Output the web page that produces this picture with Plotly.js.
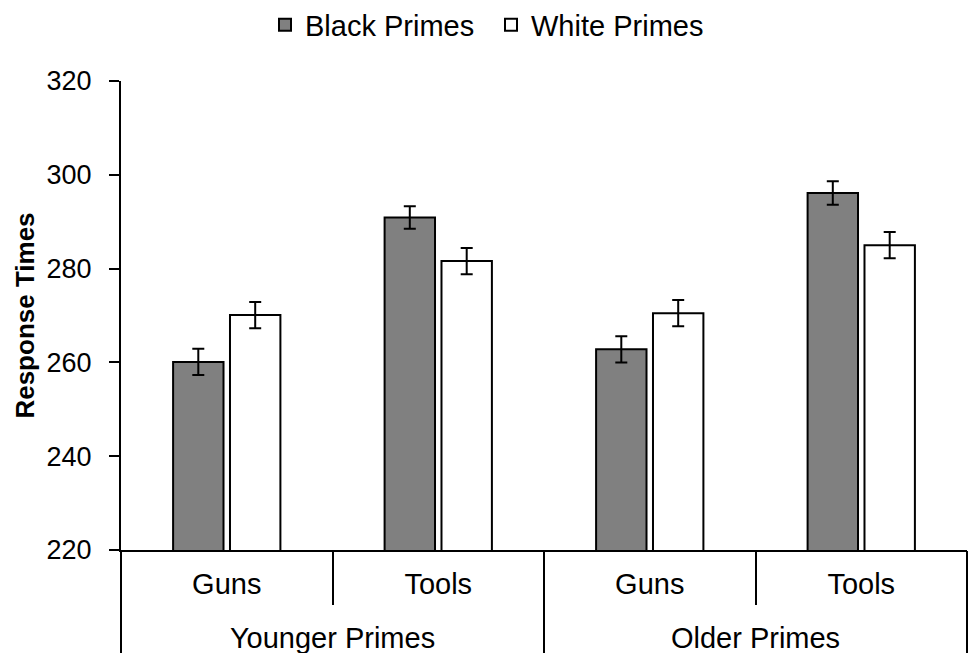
<!DOCTYPE html>
<html>
<head>
<meta charset="utf-8">
<script src="https://cdn.plot.ly/plotly-3.0.1.min.js"></script>
<style>
  html, body { margin: 0; padding: 0; background: #ffffff; }
  #chart { width: 969px; height: 653px; }
</style>
</head>
<body>
<div id="chart"></div>
<script>
// Prime age groups (outer level) and target objects (inner level)
const primeAge = ['Younger Primes', 'Younger Primes', 'Older Primes', 'Older Primes'];
const targetObject = ['Guns', 'Tools', 'Guns', 'Tools'];

// Mean response times (ms) and their standard errors
const blackPrimes = [260.1, 290.9, 262.8, 296.1];
const blackErr = [2.8, 2.4, 2.8, 2.5];
const whitePrimes = [270.1, 281.6, 270.5, 285.0];
const whiteErr = [2.8, 2.8, 2.8, 2.8];

const yTicks = [220, 240, 260, 280, 300, 320];

const FONT = 'Liberation Sans, Arial, sans-serif';

// one category per (age group, object) cell
const cellKeys = primeAge.map((g, i) => g + ' / ' + targetObject[i]);

// outer groups: label centred over its cells, boundaries on both sides
const groups = [...new Set(primeAge)];
const groupCenters = groups.map(g => {
  const idx = primeAge.map((a, i) => (a === g ? i : null)).filter(i => i !== null);
  return (idx[0] + idx[idx.length - 1]) / 2;
});
const groupBounds = [-0.5].concat(groups.map(g => primeAge.lastIndexOf(g) + 0.5));

const traces = [
  {
    type: 'bar',
    name: 'Black Primes',
    x: cellKeys,
    y: blackPrimes,
    marker: { color: '#808080', line: { color: '#000000', width: 2 } },
    error_y: { type: 'data', array: blackErr, visible: true, color: '#000000', thickness: 2, width: 6 }
  },
  {
    type: 'bar',
    name: 'White Primes',
    x: cellKeys,
    y: whitePrimes,
    marker: { color: '#ffffff', line: { color: '#000000', width: 2 } },
    error_y: { type: 'data', array: whiteErr, visible: true, color: '#000000', thickness: 2, width: 6 }
  },
  // empty traces that attach the group-label and divider axes
  { type: 'scatter', x: [], y: [], xaxis: 'x2', yaxis: 'y', showlegend: false, hoverinfo: 'skip' },
  { type: 'scatter', x: [], y: [], xaxis: 'x3', yaxis: 'y', showlegend: false, hoverinfo: 'skip' }
];

const layout = {
  width: 969,
  height: 653,
  margin: { l: 121, r: 2, t: 81, b: 103 },
  paper_bgcolor: '#ffffff',
  plot_bgcolor: '#ffffff',
  font: { family: FONT, color: '#000000' },
  barmode: 'group',
  bargap: 0.462,
  bargroupgap: 0.114,
  showlegend: true,
  legend: {
    orientation: 'h',
    xref: 'container',
    yref: 'container',
    x: 265 / 969,
    xanchor: 'left',
    y: 1 - 25 / 653,
    yanchor: 'middle',
    entrywidth: 181,
    entrywidthmode: 'pixels',
    font: { family: FONT, size: 29, color: '#000000' },
    bgcolor: 'rgba(0,0,0,0)'
  },
  // inner level: object labels under each pair of bars
  xaxis: {
    type: 'category',
    tickvals: cellKeys,
    ticktext: targetObject,
    showline: true,
    linecolor: '#000000',
    linewidth: 2,
    ticks: '',
    ticklabelstandoff: 7,
    showgrid: false,
    zeroline: false,
    tickfont: { family: FONT, size: 29, color: '#000000' },
    automargin: false,
    fixedrange: true
  },
  // outer level: age-group labels, with short separators between objects
  xaxis2: {
    overlaying: 'x',
    anchor: 'y',
    side: 'bottom',
    type: 'linear',
    range: [-0.5, cellKeys.length - 0.5],
    tickvals: groupCenters,
    ticktext: groups,
    ticks: 'outside',
    ticklen: 54,
    tickwidth: 2,
    tickcolor: '#000000',
    ticklabelstandoff: 8,
    tickfont: { family: FONT, size: 29, color: '#000000' },
    showgrid: false,
    zeroline: false,
    showline: false,
    automargin: false,
    fixedrange: true
  },
  // full-height dividers between age groups
  xaxis3: {
    overlaying: 'x',
    anchor: 'y',
    side: 'bottom',
    type: 'linear',
    range: [-0.5, cellKeys.length - 0.5],
    tickvals: groupBounds,
    ticks: 'outside',
    ticklen: 110,
    tickwidth: 2,
    tickcolor: '#000000',
    showticklabels: false,
    showgrid: false,
    zeroline: false,
    showline: false,
    automargin: false,
    fixedrange: true
  },
  yaxis: {
    range: [220, 320],
    tickvals: yTicks,
    ticktext: yTicks.map(String),
    ticks: 'outside',
    ticklen: 10,
    tickwidth: 2,
    tickcolor: '#000000',
    ticklabelstandoff: 12,
    showline: true,
    linecolor: '#000000',
    linewidth: 2,
    showgrid: false,
    zeroline: false,
    tickfont: { family: FONT, size: 27, color: '#000000' },
    title: {
      text: 'Response Times',
      font: { family: FONT, size: 26, color: '#000000', weight: 'bold' },
      standoff: 4
    },
    automargin: false,
    fixedrange: true
  }
};

Plotly.newPlot('chart', traces, layout, { displayModeBar: false, staticPlot: true });
</script>
</body>
</html>
